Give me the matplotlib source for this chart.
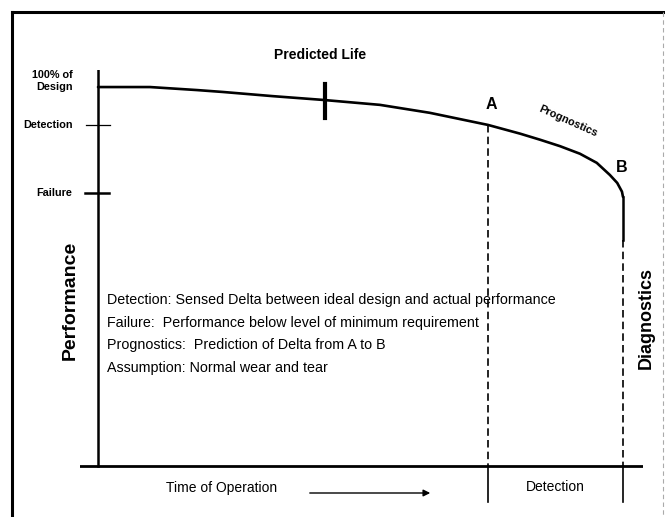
import matplotlib
matplotlib.use("Agg")
from matplotlib import pyplot as plt

plt.rcParams['font.family'] = ['Liberation Sans', 'DejaVu Sans']

# performance curve: time of operation (B = 100) vs performance (% of design)
time = [0, 9.9, 18.9, 23.8, 33.3, 42.9, 53.7, 63.2, 74.3, 80.4, 84.2,
        88.0, 91.8, 95.0, 97.5, 98.9, 99.8, 100]
perf = [100, 100, 99.2, 98.7, 97.6, 96.6, 95.3, 93.2, 90, 87.7, 86.1,
        84.4, 82.4, 80.0, 76.8, 74.7, 72.4, 71]

levels = [100, 90, 72]
level_labels = ["100% of\nDesign", "Detection", "Failure"]
t_predicted = 43.2
t_A, p_A = 74.3, 90
t_B, p_B = 100, 71
p_solid_end = 59.6

notes = ["Detection: Sensed Delta between ideal design and actual performance",
         "Failure:  Performance below level of minimum requirement",
         "Prognostics:  Prediction of Delta from A to B",
         "Assumption: Normal wear and tear"]

W, H = 665, 517
fig = plt.figure(figsize=(W / 100, H / 100), dpi=100)

# page overlay in pixel coords for the frame and free text
page = fig.add_axes([0, 0, 1, 1])
page.set_xlim(0, W)
page.set_ylim(H, 0)
page.axis("off")
page.plot([12, 12], [12, H], color="black", lw=2.2)
page.plot([12, 664], [12, 12], color="black", lw=2.2)
page.plot([663, 663], [12, H], color="#aaaaaa", lw=0.8, ls=(0, (4, 3)))

ax = fig.add_axes([80 / W, (H - 505) / H, (643 - 80) / W, (505 - 70) / H])
ax.set_xlim(-3.43, 103.81)
ax.set_ylim(-10.3, 104.5)
ax.axis("off")
ax.patch.set_alpha(0)

# axes lines
ax.plot([-3.43, 103.81], [0, 0], color="black", lw=2.0)
ax.plot([0, 0], [0, 104.5], color="black", lw=1.8)

# curve
ax.plot(time, perf, color="black", lw=1.9, solid_capstyle="round",
        solid_joinstyle="round")

# predicted life tick
ax.plot([t_predicted, t_predicted], [91.8, 100.8], color="black", lw=3)

# level ticks
ax.plot([-2.3, 2.3], [levels[1], levels[1]], color="black", lw=0.9)
ax.plot([-2.5, 2.1], [levels[2], levels[2]], color="black", lw=1.8)
for lv, lab in zip(levels, level_labels):
    y = lv + 1.6 if lv == 100 else lv
    ax.text(-4.9, y, lab, ha="right", va="center", fontsize=7.8,
            fontweight="bold", linespacing=1.25)

# A and B drops
dash = (0, (4.5, 2.5))
ax.plot([t_A, t_A], [p_A, 0], color="black", lw=1.2, ls=dash)
ax.plot([t_A, t_A], [0, -9.5], color="black", lw=1.2)
ax.plot([t_B, t_B], [p_B, p_solid_end], color="black", lw=1.8)
ax.plot([t_B, t_B], [p_solid_end, 0], color="black", lw=1.2, ls=dash)
ax.plot([t_B, t_B], [0, -9.5], color="black", lw=1.2)

ax.text(t_A + 0.7, p_A + 5.3, "A", ha="center", va="center", fontsize=11.5, fontweight="bold")
ax.text(t_B - 0.2, p_B + 7.8, "B", ha="center", va="center", fontsize=11.5, fontweight="bold")
ax.text(89.5, 91.0, "Prognostics", ha="center", va="center", fontsize=7.8,
        fontweight="bold", rotation=-24)

# free text
page.text(320, 55, "Predicted Life", ha="center", va="center", fontsize=10, fontweight="bold")
page.text(70, 300, "Performance", ha="center", va="center", fontsize=14,
          fontweight="bold", rotation=90)
page.text(646, 318, "Diagnostics", ha="center", va="center", fontsize=13,
          fontweight="bold", rotation=90)
for i, line in enumerate(notes):
    page.text(107, 300 + i * 22.7, line, ha="left", va="center", fontsize=10.3)
page.text(222, 488, "Time of Operation", ha="center", va="center", fontsize=10)
page.annotate("", xy=(433, 493), xytext=(307, 493),
              arrowprops=dict(arrowstyle="-|>", color="black", lw=1.0,
                              mutation_scale=10))
page.text(555, 487, "Detection", ha="center", va="center", fontsize=10)

fig.savefig("out.png", dpi=100)
